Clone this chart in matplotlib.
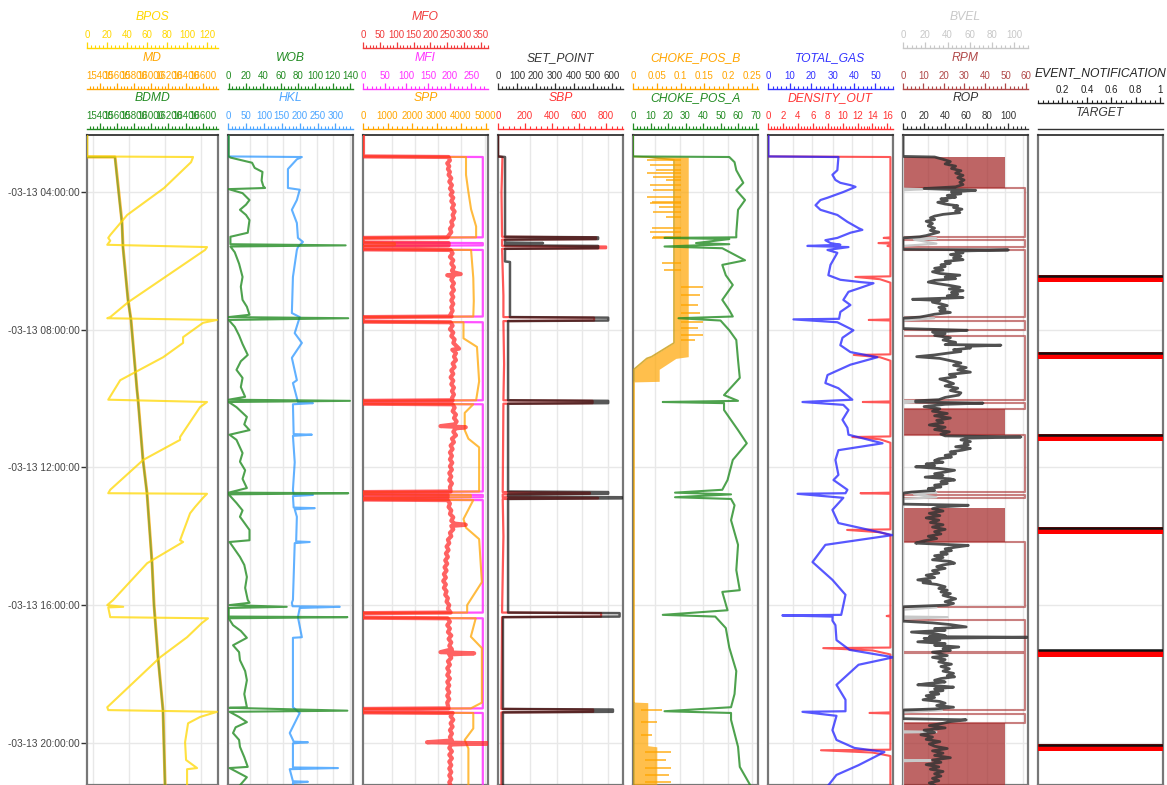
import numpy as np
import matplotlib
matplotlib.use("Agg")
import matplotlib.pyplot as plt
from matplotlib.ticker import MultipleLocator, FuncFormatter

plt.rcParams["font.family"] = ["Liberation Sans", "DejaVu Sans"]

W, H = 1167, 785


def hrs(ts):
    return np.array([int(s[:2]) + int(s[3:]) / 60 for s in ts])


def split(pairs):
    t, v = zip(*pairs)
    return hrs(t), np.array(v, dtype=float)


# ---------------- data (time of day on 03-13, value) ----------------
bpos = [("02:15", 0), ("02:58", 0), ("02:59", 106), ("03:08", 104), ("03:53", 77), ("04:40", 40),
        ("05:15", 23), ("05:20", 21), ("05:25", 23), ("05:32", 20), ("05:36", 120), ("05:41", 118),
        ("07:12", 41), ("07:38", 23), ("07:40", 20), ("07:43", 130), ("07:48", 116), ("08:13", 96),
        ("08:23", 96), ("08:48", 76), ("09:28", 33), ("10:02", 21), ("10:06", 120), ("10:15", 113),
        ("11:07", 93), ("11:12", 93), ("11:47", 56), ("12:39", 23), ("12:45", 21), ("12:46", 120),
        ("12:53", 116), ("13:09", 108), ("13:20", 103), ("14:07", 93), ("14:10", 96), ("14:47", 60),
        ("15:51", 26), ("16:00", 20), ("16:03", 36), ("16:04", 21), ("16:21", 23), ("16:23", 121),
        ("16:31", 115), ("16:56", 100), ("17:31", 73), ("18:58", 20), ("19:03", 21), ("19:06", 130),
        ("19:15", 113), ("19:26", 101), ("19:59", 98), ("20:30", 99), ("20:44", 110), ("20:46", 100),
        ("21:14", 100)]
md = [("02:15", 0), ("02:58", 0), ("02:59", 15576), ("04:54", 15658), ("05:36", 15669),
      ("07:08", 15728), ("07:43", 15763), ("09:45", 15833), ("10:02", 15845), ("11:47", 15903),
      ("12:45", 15950), ("14:47", 16009), ("16:00", 16032), ("17:31", 16079), ("19:03", 16137),
      ("21:14", 16161)]
bdmd = [("02:15", 0), ("02:58", 0), ("02:59", 15574), ("04:54", 15656), ("05:36", 15668),
        ("07:08", 15727), ("07:43", 15762), ("09:45", 15832), ("10:02", 15844), ("11:47", 15902),
        ("12:45", 15949), ("14:47", 16008), ("16:00", 16031), ("17:31", 16078), ("19:03", 16136),
        ("21:14", 16160)]

wob = [("02:15", 0), ("02:58", 0), ("03:00", 2), ("03:09", 27), ("03:18", 30), ("03:25", 39), ("03:40", 38),
       ("03:50", 40), ("03:53", 42), ("03:55", 0), ("04:02", 16), ("04:14", 24), ("04:22", 20), ("04:31", 13),
       ("04:40", 20), ("04:49", 24), ("05:00", 23), ("05:11", 22), ("05:18", 2), ("05:31", 2), ("05:33", 135),
       ("05:35", 2), ("05:45", 7), ("06:05", 12), ("06:28", 16), ("06:45", 14), ("07:08", 16), ("07:20", 21),
       ("07:34", 24), ("07:38", 0), ("07:40", 138), ("07:43", 0), ("07:55", 7), ("08:10", 12), ("08:25", 16),
       ("08:44", 22), ("08:55", 14), ("09:10", 9), ("09:24", 16), ("09:40", 14), ("09:57", 19), ("10:02", 0),
       ("10:04", 140), ("10:06", 0), ("10:15", 9), ("10:32", 21), ("10:45", 18), ("10:55", 24), ("11:03", 1),
       ("11:12", 9), ("11:35", 16), ("11:50", 13), ("12:05", 19), ("12:20", 16), ("12:36", 21), ("12:44", 0),
       ("12:45", 138), ("12:47", 0), ("13:02", 9), ("13:15", 16), ("13:26", 13), ("13:49", 24), ("14:07", 24),
       ("14:10", 1), ("14:36", 13), ("14:50", 18), ("15:11", 21), ("15:30", 19), ("15:51", 22), ("15:56", 24),
       ("16:00", 1), ("16:03", 67), ("16:05", 0), ("16:20", 0), ("16:21", 137), ("16:23", 0), ("16:35", 5),
       ("16:45", 14), ("16:57", 21), ("17:10", 5), ("17:22", 12), ("17:36", 13), ("17:55", 19), ("18:11", 21),
       ("18:35", 18), ("18:58", 21), ("18:59", 1), ("19:04", 137), ("19:06", 1), ("19:15", 12), ("19:24", 21),
       ("19:33", 8), ("19:43", 5), ("19:55", 12), ("20:07", 13), ("20:25", 18), ("20:42", 22), ("20:44", 1),
       ("21:00", 21), ("21:14", 13)]
hkl = [("02:15", 0), ("02:58", 0), ("02:59", 206), ("03:03", 192), ("03:20", 167), ("03:53", 167),
       ("03:56", 200), ("04:14", 192), ("04:31", 178), ("04:54", 192), ("05:20", 195), ("05:27", 209),
       ("05:36", 195), ("05:41", 192), ("06:28", 181), ("07:31", 178), ("07:38", 200), ("08:06", 186),
       ("08:23", 206), ("08:49", 178), ("09:28", 192), ("09:33", 181), ("10:06", 195), ("10:08", 237),
       ("10:10", 181), ("11:02", 183), ("11:03", 234), ("11:05", 181), ("11:51", 186), ("12:39", 181),
       ("12:47", 183), ("12:48", 237), ("12:50", 181), ("13:10", 183), ("13:11", 242), ("13:13", 186),
       ("13:26", 192), ("14:09", 190), ("14:10", 228), ("14:12", 186), ("15:51", 181), ("15:56", 178),
       ("16:02", 180), ("16:03", 312), ("16:05", 200), ("16:21", 195), ("16:56", 206), ("16:57", 181),
       ("17:36", 181), ("18:58", 181), ("19:08", 200), ("19:43", 172), ("19:55", 181), ("19:58", 183),
       ("19:59", 223), ("20:01", 181), ("20:07", 181), ("20:43", 181), ("20:44", 307), ("20:46", 172),
       ("21:07", 181), ("21:08", 223), ("21:10", 181), ("21:14", 181)]

mfo = [("02:15", 0), ("02:58", 0), ("02:59", 254), ("03:05", 258), ("03:10", 250), ("03:15", 256), ("03:20", 252),
       ("03:25", 258), ("03:30", 254), ("03:36", 262), ("03:42", 256), ("03:48", 264), ("03:54", 258),
       ("04:00", 266), ("04:05", 260), ("04:10", 268), ("04:16", 262), ("04:22", 270), ("04:28", 264),
       ("04:34", 272), ("04:40", 266), ("04:46", 270), ("04:52", 262), ("04:58", 266), ("05:04", 258),
       ("05:10", 262), ("05:16", 254), ("05:19", 251), ("05:20", 0), ("05:28", 0), ("05:29", 254), ("05:33", 254),
       ("05:34", 0), ("05:40", 0), ("05:41", 260), ("05:47", 266), ("05:53", 258), ("05:59", 268), ("06:05", 262),
       ("06:11", 270), ("06:17", 264), ("06:20", 270), ("06:23", 290), ("06:25", 250), ("06:27", 268),
       ("06:33", 262), ("06:39", 270), ("06:45", 264), ("06:51", 270), ("06:57", 262), ("07:03", 268),
       ("07:09", 262), ("07:15", 268), ("07:21", 262), ("07:27", 266), ("07:33", 260), ("07:37", 263),
       ("07:38", 0), ("07:46", 0), ("07:47", 260), ("07:53", 266), ("07:59", 258), ("08:05", 268), ("08:11", 262),
       ("08:17", 272), ("08:23", 268), ("08:29", 278), ("08:33", 285), ("08:35", 265), ("08:41", 276),
       ("08:47", 270), ("08:53", 276), ("08:59", 266), ("09:05", 272), ("09:11", 262), ("09:17", 268),
       ("09:23", 260), ("09:29", 268), ("09:35", 262), ("09:41", 270), ("09:47", 264), ("09:53", 270),
       ("09:59", 264), ("10:03", 266), ("10:04", 0), ("10:09", 0), ("10:10", 266), ("10:16", 272), ("10:22", 266),
       ("10:28", 276), ("10:34", 270), ("10:40", 278), ("10:45", 272), ("10:48", 230), ("10:50", 305),
       ("10:52", 275), ("10:58", 268), ("11:04", 276), ("11:10", 264), ("11:16", 270), ("11:22", 260),
       ("11:28", 266), ("11:34", 258), ("11:40", 264), ("11:46", 258), ("11:52", 265), ("11:58", 258),
       ("12:04", 264), ("12:10", 256), ("12:16", 262), ("12:22", 256), ("12:28", 264), ("12:34", 258),
       ("12:42", 260), ("12:43", 0), ("12:47", 0), ("12:48", 251), ("12:52", 251), ("12:53", 0), ("12:56", 0),
       ("12:57", 251), ("13:03", 258), ("13:09", 254), ("13:15", 262), ("13:21", 258), ("13:27", 268),
       ("13:33", 262), ("13:38", 272), ("13:40", 305), ("13:42", 262), ("13:48", 268), ("13:54", 258),
       ("14:00", 262), ("14:06", 252), ("14:12", 256), ("14:18", 248), ("14:24", 254), ("14:30", 246),
       ("14:36", 252), ("14:42", 244), ("14:48", 250), ("14:54", 242), ("15:00", 248), ("15:06", 240),
       ("15:12", 246), ("15:18", 238), ("15:24", 246), ("15:30", 240), ("15:36", 248), ("15:42", 244),
       ("15:48", 252), ("15:54", 248), ("16:00", 256), ("16:06", 252), ("16:13", 260), ("16:14", 0), ("16:22", 0),
       ("16:23", 251), ("16:29", 258), ("16:35", 250), ("16:41", 258), ("16:47", 252), ("16:53", 262),
       ("16:59", 254), ("17:05", 262), ("17:11", 256), ("17:17", 264), ("17:22", 230), ("17:24", 330),
       ("17:26", 256), ("17:32", 262), ("17:38", 252), ("17:44", 258), ("17:50", 250), ("17:56", 256),
       ("18:02", 250), ("18:08", 258), ("18:14", 250), ("18:20", 256), ("18:26", 250), ("18:32", 256),
       ("18:38", 250), ("18:44", 256), ("18:50", 250), ("19:00", 254), ("19:01", 0), ("19:07", 0), ("19:08", 266),
       ("19:14", 260), ("19:20", 268), ("19:26", 260), ("19:32", 266), ("19:38", 258), ("19:44", 264),
       ("19:50", 258), ("19:56", 264), ("19:59", 190), ("20:01", 370), ("20:03", 262), ("20:09", 256),
       ("20:15", 264), ("20:21", 256), ("20:27", 264), ("20:33", 256), ("20:39", 262), ("20:45", 256),
       ("20:51", 262), ("20:57", 256), ("21:03", 262), ("21:09", 256), ("21:14", 260)]
mfi = [("02:15", 0), ("02:58", 0), ("02:59", 277), ("05:19", 277), ("05:20", 0), ("05:28", 0),
       ("05:29", 277), ("05:33", 277), ("05:34", 0), ("05:40", 0), ("05:41", 277), ("07:37", 277),
       ("07:38", 0), ("07:46", 0), ("07:47", 277), ("10:03", 277), ("10:04", 0), ("10:09", 0),
       ("10:10", 277), ("12:42", 277), ("12:43", 0), ("12:47", 0), ("12:48", 277), ("12:52", 277),
       ("12:53", 0), ("12:56", 0), ("12:57", 277), ("16:13", 277), ("16:14", 0), ("16:22", 0),
       ("16:23", 277), ("19:00", 277), ("19:01", 0), ("19:07", 0), ("19:08", 277), ("21:14", 277)]
spp = [("02:15", 0), ("02:58", 0), ("02:59", 4203), ("03:30", 4203), ("04:00", 4300), ("04:30", 4409),
       ("05:00", 4615), ("05:19", 4615), ("05:20", 0), ("05:28", 0), ("05:29", 1300), ("05:33", 1300),
       ("05:34", 0), ("05:40", 0), ("05:41", 4409), ("06:30", 4500), ("07:10", 4520), ("07:37", 4500),
       ("07:38", 0), ("07:46", 0), ("07:47", 4100), ("08:15", 4100), ("08:30", 4650), ("09:30", 4738),
       ("10:03", 4615), ("10:04", 0), ("10:09", 0), ("10:10", 4500), ("10:25", 4150), ("10:55", 4150),
       ("11:10", 4300), ("11:25", 4738), ("12:42", 4738), ("12:43", 0), ("12:47", 0), ("12:48", 4400),
       ("12:52", 4400), ("12:53", 0), ("12:56", 0), ("12:57", 4500), ("13:30", 4100), ("13:45", 4200),
       ("14:05", 4738), ("15:20", 4850), ("16:00", 4250), ("16:13", 4250), ("16:14", 0), ("16:22", 0),
       ("16:23", 4600), ("16:55", 4400), ("17:15", 4850), ("18:50", 4850), ("19:00", 4400), ("19:01", 0),
       ("19:07", 0), ("19:08", 4500), ("19:35", 4500), ("19:55", 4150), ("20:10", 4300), ("20:40", 4300),
       ("21:14", 4300)]

set_point = [("02:15", 0), ("02:58", 0), ("02:59", 37), ("05:18", 37), ("05:19", 527), ("05:22", 527),
             ("05:23", 37), ("05:28", 37), ("05:29", 237), ("05:30", 37), ("05:33", 37), ("05:34", 527),
             ("05:38", 527), ("05:39", 37), ("06:01", 37), ("06:02", 63), ("07:38", 63), ("07:39", 580),
             ("07:44", 580), ("07:45", 53), ("10:03", 53), ("10:04", 580), ("10:08", 580), ("10:09", 53),
             ("12:42", 53), ("12:43", 580), ("12:46", 580), ("12:47", 53), ("12:51", 53), ("12:52", 653),
             ("12:54", 653), ("12:55", 53), ("16:13", 53), ("16:14", 640), ("16:20", 640), ("16:21", 26),
             ("19:01", 26), ("19:02", 605), ("19:06", 605), ("19:07", 26), ("21:14", 26)]
sbp = [("02:15", 0), ("02:58", 0), ("02:59", 33), ("04:00", 26), ("05:18", 30), ("05:19", 726),
       ("05:22", 726), ("05:23", 30), ("05:34", 30), ("05:35", 800), ("05:38", 800), ("05:39", 30),
       ("07:00", 40), ("07:38", 40), ("07:39", 711), ("07:44", 711), ("07:45", 40), ("09:00", 45),
       ("10:03", 40), ("10:04", 700), ("10:08", 700), ("10:09", 40), ("12:43", 35), ("12:44", 680),
       ("12:46", 680), ("12:47", 35), ("12:52", 35), ("12:53", 740), ("12:54", 740), ("12:55", 35),
       ("14:00", 40), ("16:13", 30), ("16:14", 763), ("16:20", 763), ("16:21", 30), ("19:01", 25),
       ("19:02", 704), ("19:06", 704), ("19:07", 25), ("21:14", 25)]

# choke B: min/max envelope of the oscillating signal, plus outlying strokes
choke_b_t = ["02:15", "02:58", "02:59", "03:04", "07:39", "08:23", "08:47", "08:50", "09:09", "09:30",
             "09:31", "18:49", "18:50", "20:05", "20:07", "21:14"]
choke_b_lo = [0, 0, 0.029, 0.086, 0.086, 0.086, 0.039, 0.029, 0.002, 0.002, 0, 0, 0.002, 0.002, 0.002, 0.002]
choke_b_hi = [0, 0, 0.116, 0.116, 0.116, 0.116, 0.116, 0.09, 0.055, 0.055, 0.003, 0.003, 0.031, 0.031, 0.05, 0.05]
choke_b_strokes = [("03:04", 0.029), ("03:13", 0.035), ("03:22", 0.049), ("03:27", 0.029), ("03:34", 0.041),
                   ("03:39", 0.069), ("03:48", 0.035), ("03:57", 0.041), ("04:09", 0.029), ("04:17", 0.039),
                   ("04:19", 0.035), ("04:26", 0.055), ("04:35", 0.041), ("04:44", 0.069), ("05:03", 0.039),
                   ("05:10", 0.035), ("05:18", 0.041), ("05:20", 0.039), ("06:04", 0.06), ("06:16", 0.065),
                   ("06:46", 0.147), ("06:59", 0.14), ("07:17", 0.137), ("07:31", 0.14), ("07:47", 0.147),
                   ("07:57", 0.137), ("08:09", 0.147), ("08:18", 0.13), ("19:03", 0.06), ("19:24", 0.05),
                   ("19:46", 0.04), ("20:16", 0.08), ("20:30", 0.07), ("20:44", 0.08), ("20:56", 0.075),
                   ("21:08", 0.08)]
choke_a = [("02:15", 0), ("02:58", 0), ("02:59", 55), ("03:08", 58), ("03:22", 59), ("03:44", 63),
           ("03:57", 59), ("04:14", 64), ("04:31", 60), ("05:11", 59), ("05:19", 59), ("05:20", 18),
           ("05:22", 55), ("05:29", 36), ("05:31", 55), ("05:35", 18), ("05:38", 51), ("05:59", 64),
           ("06:07", 51), ("06:25", 53), ("06:42", 57), ("07:08", 51), ("07:26", 55), ("07:37", 57),
           ("07:40", 26), ("07:44", 50), ("08:01", 55), ("08:18", 59), ("08:53", 60), ("09:24", 61),
           ("09:54", 52), ("10:04", 60), ("10:06", 17), ("10:08", 52), ("10:20", 52), ("10:55", 60),
           ("11:18", 65), ("11:47", 57), ("12:22", 54), ("12:39", 51), ("12:44", 24), ("12:47", 56),
           ("12:52", 24), ("12:55", 56), ("13:06", 58), ("13:32", 56), ("14:15", 60), ("14:59", 59),
           ("15:34", 61), ("15:37", 51), ("16:09", 54), ("16:17", 17), ("16:20", 47), ("16:40", 53),
           ("17:14", 55), ("17:55", 59), ("18:35", 58), ("18:58", 56), ("19:05", 18), ("19:08", 56),
           ("19:20", 56), ("20:07", 60), ("20:42", 61), ("21:14", 67)]

total_gas = [("02:15", 0), ("02:58", 0), ("02:59", 32.7), ("03:22", 32.2), ("03:30", 29.9), ("03:39", 31.3),
             ("03:44", 33.6), ("03:48", 38.3), ("03:51", 40.7), ("04:00", 35), ("04:10", 27.6), ("04:14", 24.3),
             ("04:23", 22), ("04:31", 24.3), ("04:40", 32.2), ("04:52", 36.9), ("05:03", 42.1), ("05:06", 43.9),
             ("05:11", 38.3), ("05:20", 32.2), ("05:24", 26.6), ("05:29", 29), ("05:32", 33.6), ("05:34", 18.2),
             ("05:36", 37.4), ("05:41", 27.6), ("05:46", 32.2), ("06:07", 29), ("06:25", 28), ("06:33", 33.6),
             ("06:37", 43), ("06:39", 49.1), ("06:47", 43), ("06:54", 37.4), ("07:08", 35), ("07:17", 38.3),
             ("07:29", 33.6), ("07:41", 33), ("07:42", 11.7), ("07:47", 32.2), ("08:01", 39.7), ("08:14", 34.6),
             ("08:27", 33.6), ("08:39", 38.3), ("08:48", 50.9), ("09:01", 38.3), ("09:19", 27.6), ("09:33", 26.6),
             ("09:42", 32.7), ("10:02", 39.2), ("10:06", 15.9), ("10:11", 35), ("10:20", 37.4), ("10:37", 34.6),
             ("10:51", 36.9), ("11:03", 37.4), ("11:18", 53.3), ("11:30", 32.7), ("11:47", 31.3), ("12:13", 32.7),
             ("12:22", 30.4), ("12:39", 36.9), ("12:45", 36), ("12:46", 13.6), ("12:53", 35), ("13:14", 29.9),
             ("13:37", 32.7), ("13:58", 57.9), ("14:15", 26.6), ("14:45", 20.6), ("15:16", 29.9), ("15:42", 36),
             ("16:00", 35), ("16:17", 34), ("16:18", 6.5), ("16:20", 30), ("16:27", 29.9), ("16:35", 31.3),
             ("17:01", 31.8), ("17:18", 37.9), ("17:31", 58.4), ("17:44", 42.1), ("18:19", 31.8), ("18:45", 36),
             ("19:05", 36), ("19:06", 15.9), ("19:13", 31.8), ("19:38", 29.9), ("19:55", 31.8), ("20:09", 40.2),
             ("20:16", 54.2), ("20:39", 42.1), ("20:56", 31.8), ("21:14", 28)]
density_out = [("02:15", 0), ("02:58", 0), ("02:59", 16.4), ("05:19", 16.4), ("05:20", 15.5), ("05:21", 16.4),
               ("05:28", 16.4), ("05:29", 14.8), ("05:30", 16.4), ("05:33", 16.4), ("05:34", 16.0),
               ("05:35", 16.4), ("06:27", 16.4), ("06:28", 11.7), ("06:32", 15.0), ("06:38", 16.4),
               ("07:42", 16.4), ("07:43", 13.5), ("07:44", 16.4), ("08:43", 16.4), ("08:44", 11.5),
               ("08:48", 15.0), ("08:54", 16.4), ("10:05", 16.4), ("10:06", 12.7), ("10:07", 16.4),
               ("11:06", 16.4), ("11:07", 11.3), ("11:11", 15.0), ("11:17", 16.4), ("12:44", 16.4),
               ("12:45", 12.4), ("12:46", 16.4), ("13:48", 16.4), ("13:49", 10.6), ("13:53", 15.0),
               ("13:58", 16.4), ("16:18", 16.4), ("16:19", 15.9), ("16:20", 16.4), ("17:14", 16.4),
               ("17:15", 7.4), ("17:19", 14.0), ("17:26", 16.4), ("19:07", 16.4), ("19:08", 13.6),
               ("19:09", 16.4), ("20:12", 16.4), ("20:13", 7.1), ("20:17", 14.0), ("20:23", 16.4),
               ("21:14", 16.4)]

bvel = [("02:15", 0), ("03:54", 0), ("03:55", 18), ("03:57", 0), ("05:20", 0), ("05:21", 30), ("05:23", 10),
        ("05:30", 30), ("05:34", 0), ("07:39", 0), ("07:40", 28), ("07:44", 0), ("10:04", 0), ("10:05", 20),
        ("10:08", 0), ("12:43", 0), ("12:44", 30), ("12:47", 10), ("12:52", 30), ("12:55", 0), ("16:02", 0),
        ("16:04", 30), ("16:08", 0), ("16:20", 0), ("16:21", 40), ("16:24", 0), ("19:02", 0), ("19:03", 35),
        ("19:07", 0), ("19:40", 0), ("19:41", 30), ("19:42", 0), ("20:30", 0), ("20:31", 25), ("20:32", 0),
        ("21:14", 0)]
rpm_rotating = [("03:53", "05:18"), ("05:24", "05:36"), ("05:41", "07:38"), ("07:45", "08:01"),
                ("08:11", "10:03"), ("10:08", "10:18"), ("11:03", "12:43"), ("12:48", "12:53"),
                ("14:10", "16:03"), ("16:26", "17:22"), ("17:24", "19:03"), ("19:10", "19:25")]
rpm_rotating_level = 59.5
rpm_rocking = [("02:59", "03:53"), ("10:18", "11:03"), ("13:11", "14:10"), ("19:25", "21:30")]
rpm_rocking_level = 50
rop = [("02:15", 0), ("02:58", 0), ("02:59", 30), ("03:03", 38), ("03:07", 45), ("03:11", 40), ("03:15", 50),
       ("03:19", 46), ("03:23", 55), ("03:27", 50), ("03:31", 57), ("03:35", 52), ("03:39", 58), ("03:43", 54),
       ("03:47", 57), ("03:51", 50), ("03:54", 20), ("03:57", 69), ("04:00", 46), ("04:03", 55), ("04:06", 42),
       ("04:09", 50), ("04:12", 36), ("04:15", 42), ("04:18", 33), ("04:21", 40), ("04:24", 52), ("04:27", 48),
       ("04:30", 56), ("04:33", 50), ("04:36", 54), ("04:39", 38), ("04:42", 30), ("04:45", 26), ("04:48", 30),
       ("04:51", 22), ("04:55", 28), ("04:59", 24), ("05:03", 30), ("05:07", 26), ("05:10", 34), ("05:13", 28),
       ("05:16", 22), ("05:18", 16), ("05:20", 0), ("05:40", 0), ("05:41", 100), ("05:43", 50), ("05:46", 57),
       ("05:49", 45), ("05:52", 55), ("05:55", 48), ("05:58", 57), ("06:01", 40), ("06:04", 45), ("06:07", 36),
       ("06:10", 40), ("06:13", 30), ("06:16", 38), ("06:19", 28), ("06:22", 35), ("06:25", 54), ("06:28", 40),
       ("06:31", 50), ("06:34", 30), ("06:37", 24), ("06:40", 34), ("06:43", 45), ("06:46", 54), ("06:49", 44),
       ("06:52", 57), ("06:55", 46), ("06:58", 52), ("07:01", 42), ("07:04", 57), ("07:07", 9), ("07:09", 35),
       ("07:12", 28), ("07:15", 36), ("07:18", 42), ("07:21", 34), ("07:24", 40), ("07:27", 35), ("07:30", 45),
       ("07:33", 30), ("07:36", 22), ("07:38", 16), ("07:40", 0), ("07:58", 0), ("08:01", 61), ("08:04", 28),
       ("08:07", 40), ("08:10", 30), ("08:14", 45), ("08:18", 38), ("08:22", 50), ("08:26", 40), ("08:27", 93),
       ("08:29", 60), ("08:32", 64), ("08:35", 48), ("08:38", 55), ("08:41", 42), ("08:44", 30), ("08:47", 13),
       ("08:50", 35), ("08:54", 45), ("08:58", 55), ("09:02", 48), ("09:06", 60), ("09:10", 52), ("09:14", 64),
       ("09:18", 44), ("09:22", 50), ("09:26", 35), ("09:30", 42), ("09:34", 48), ("09:38", 40), ("09:42", 52),
       ("09:46", 45), ("09:50", 55), ("09:54", 53), ("09:58", 40), ("10:02", 34), ("10:04", 12), ("10:06", 12),
       ("10:08", 76), ("10:10", 40), ("10:14", 20), ("10:18", 35), ("10:22", 28), ("10:26", 42), ("10:30", 30),
       ("10:34", 45), ("10:38", 32), ("10:42", 38), ("10:46", 25), ("10:50", 40), ("10:54", 30), ("10:58", 44),
       ("11:02", 36), ("11:05", 40), ("11:07", 112), ("11:09", 62), ("11:12", 55), ("11:15", 64), ("11:18", 58),
       ("11:21", 62), ("11:24", 50), ("11:27", 64), ("11:30", 56), ("11:33", 45), ("11:36", 50), ("11:39", 40),
       ("11:42", 46), ("11:45", 34), ("11:48", 30), ("11:51", 38), ("11:54", 22), ("11:57", 30), ("11:59", 12),
       ("12:02", 35), ("12:05", 49), ("12:08", 40), ("12:11", 30), ("12:14", 38), ("12:17", 21), ("12:20", 45),
       ("12:22", 49), ("12:25", 36), ("12:28", 42), ("12:31", 30), ("12:34", 36), ("12:37", 24), ("12:40", 30),
       ("12:43", 8), ("12:45", 0), ("13:04", 0), ("13:06", 62), ("13:09", 34), ("13:12", 28), ("13:16", 38),
       ("13:20", 25), ("13:24", 35), ("13:28", 22), ("13:32", 34), ("13:36", 26), ("13:40", 38), ("13:44", 28),
       ("13:48", 40), ("13:52", 30), ("13:56", 36), ("14:00", 24), ("14:04", 32), ("14:08", 20), ("14:12", 12),
       ("14:16", 62), ("14:19", 50), ("14:22", 40), ("14:25", 46), ("14:28", 36), ("14:31", 42), ("14:34", 30),
       ("14:37", 38), ("14:41", 28), ("14:44", 45), ("14:47", 49), ("14:50", 38), ("14:53", 32), ("14:56", 40),
       ("15:00", 28), ("15:04", 34), ("15:08", 22), ("15:12", 30), ("15:16", 14), ("15:19", 26), ("15:21", 19),
       ("15:24", 32), ("15:28", 40), ("15:31", 34), ("15:34", 42), ("15:37", 36), ("15:40", 45), ("15:43", 38),
       ("15:46", 44), ("15:49", 50), ("15:51", 46), ("15:54", 40), ("15:57", 48), ("16:00", 42), ("16:03", 0),
       ("16:28", 0), ("16:31", 28), ("16:34", 45), ("16:38", 60), ("16:41", 30), ("16:44", 40), ("16:47", 8),
       ("16:50", 30), ("16:53", 40), ("16:55", 25), ("16:56", 118), ("16:58", 20), ("17:01", 35), ("17:04", 14),
       ("17:07", 40), ("17:10", 30), ("17:13", 53), ("17:16", 38), ("17:19", 45), ("17:22", 28), ("17:25", 35),
       ("17:28", 42), ("17:31", 28), ("17:35", 40), ("17:39", 34), ("17:43", 46), ("17:47", 36), ("17:51", 44),
       ("17:55", 38), ("17:59", 48), ("18:03", 42), ("18:05", 49), ("18:08", 36), ("18:11", 30), ("18:14", 40),
       ("18:17", 22), ("18:19", 14), ("18:21", 35), ("18:23", 48), ("18:26", 30), ("18:29", 38), ("18:32", 26),
       ("18:35", 34), ("18:38", 22), ("18:41", 30), ("18:45", 19), ("18:48", 35), ("18:51", 40), ("18:55", 32),
       ("18:58", 48), ("19:01", 30), ("19:03", 0), ("19:18", 0), ("19:20", 60), ("19:23", 45), ("19:26", 38),
       ("19:30", 25), ("19:34", 40), ("19:38", 20), ("19:42", 30), ("19:46", 17), ("19:50", 28), ("19:54", 22),
       ("19:58", 35), ("20:02", 25), ("20:06", 30), ("20:10", 42), ("20:14", 28), ("20:18", 38), ("20:22", 30),
       ("20:26", 45), ("20:30", 28), ("20:34", 36), ("20:38", 22), ("20:42", 34), ("20:46", 26), ("20:50", 38),
       ("20:54", 30), ("20:58", 36), ("21:02", 28), ("21:06", 34), ("21:10", 25), ("21:14", 30)]

event_notification = [("06:25", "06:37"), ("08:39", "08:51"), ("11:02", "11:14"), ("13:44", "13:56"),
                      ("17:18", "17:31"), ("20:02", "20:15")]
target = ["06:26", "08:40", "11:03", "13:45", "17:19", "20:03"]

# ---------------- layout ----------------
TRACKS = [(87, 131), (228, 125), (363, 125), (498, 125), (633, 125), (768, 125), (903, 125), (1038, 125)]
GRID_PX = [[6, 42, 78, 114], [22, 39, 55, 72, 89, 105, 122], [29, 52, 75, 98, 122], [32, 59, 84, 110],
           [22, 47, 70, 95, 119], [25, 44, 65, 84, 104, 124], [25, 45, 64, 84, 102, 120], []]
ROW_BASE = [48, 89, 129]
ROW_TITLE = [17, 58, 98]
T_TOP, T_BOT = 2.344, 21.226
HOURS = [4, 8, 12, 16, 20]

fig = plt.figure(figsize=(W / 100, H / 100), dpi=100)
fmt = FuncFormatter(lambda v, p: f"{v:g}")


def header(ti, base_px, title_px, name, color, lo, hi, majors, minor):
    l, w = TRACKS[ti]
    hx = fig.add_axes([l / W, 1 - base_px / H, w / W, 1e-4])
    hx.set_xlim(lo, hi)
    hx.patch.set_visible(False)
    for s in ("left", "right", "bottom"):
        hx.spines[s].set_visible(False)
    hx.spines["top"].set_color(color)
    hx.spines["top"].set_linewidth(1.0)
    hx.set_yticks([])
    hx.xaxis.tick_top()
    hx.set_xticks(majors)
    if minor:
        hx.xaxis.set_minor_locator(MultipleLocator(minor))
    hx.xaxis.set_major_formatter(fmt)
    hx.tick_params(axis="x", which="major", length=4.3, width=0.9, color=color,
                   labelcolor=color, labelsize=7, pad=1.1)
    hx.tick_params(axis="x", which="minor", length=2.2, width=0.8, color=color)
    fig.text((l + w / 2) / W, 1 - title_px / H, name, color=color, fontsize=8.7,
             style="italic", ha="center", va="center")


def scale(ti, row, name, color, lo, hi, step, last):
    header(ti, ROW_BASE[row], ROW_TITLE[row], name, color, lo, hi,
           np.arange(0, last + step / 2, step) if lo < step else np.arange(lo - lo % step + step, last + step / 2, step),
           step / 5)


tracks = []
for i, (l, w) in enumerate(TRACKS):
    ax = fig.add_axes([l / W, 0, w / W, 650 / H])
    ax.set_xlim(0, w)
    ax.set_ylim(T_BOT, T_TOP)
    ax.set_xticks(GRID_PX[i])
    ax.set_yticks(HOURS)
    ax.grid(i < 7, color="#e8e8e8", lw=1)
    ax.set_axisbelow(True)
    ax.tick_params(axis="x", length=0, labelbottom=False)
    if i == 0:
        ax.set_yticklabels([f"-03-13 {h:02d}:00:00" for h in HOURS])
        ax.tick_params(axis="y", length=4, width=1, color="#333", labelsize=7.3,
                       labelcolor="#444", pad=1.5)
    else:
        ax.tick_params(axis="y", length=0, labelleft=False)
    for s in ("left", "right", "bottom"):
        ax.spines[s].set_color("#777")
        ax.spines[s].set_linewidth(1.6)
    ax.spines["top"].set_color("#333")
    ax.spines["top"].set_linewidth(1.3)
    tracks.append(ax)


def layer(ti, lo, hi):
    a = tracks[ti].twiny()
    a.set_xlim(lo, hi)
    a.set_ylim(T_BOT, T_TOP)
    a.set_axis_off()
    return a


# track 1
a = layer(0, 15248, 16780)
t, v = split(md)
a.plot(v, t, color="#FFA500", lw=2.2, alpha=0.75)
t, v = split(bdmd)
a.plot(v, t, color="#228B22", lw=1.4, alpha=0.45)
a = layer(0, -0.3, 131)
t, v = split(bpos)
a.plot(v, t, color="#FFD700", lw=1.5, alpha=0.75)
scale(0, 0, "BPOS", "#FFD700", -0.3, 131, 20, 120)
scale(0, 1, "MD", "#FFA500", 15248, 16780, 200, 16600)
scale(0, 2, "BDMD", "#228B22", 15248, 16780, 200, 16600)

# track 2
a = layer(1, -0.6, 349)
t, v = split(hkl)
a.plot(v, t, color="#1E90FF", lw=1.5, alpha=0.7)
a = layer(1, -0.8, 143.5)
t, v = split(wob)
a.plot(v, t, color="#228B22", lw=1.5, alpha=0.8)
scale(1, 1, "WOB", "#228B22", -0.8, 143.5, 20, 140)
scale(1, 2, "HKL", "#4DA6FF", -0.6, 349, 50, 300)

# track 3
a = layer(2, 0, 289)
t, v = split(mfi)
a.plot(v, t, color="#FF33FF", lw=1.6, alpha=0.85)
a = layer(2, 0, 5100)
t, v = split(spp)
a.plot(v, t, color="#FFA500", lw=1.5, alpha=0.75)
a = layer(2, 0, 371)
t, v = split(mfo)
a.plot(v, t, color="#FF2020", lw=3.0, alpha=0.7)
scale(2, 0, "MFO", "#F03C3C", 0, 371, 50, 350)
scale(2, 1, "MFI", "#FF33FF", 0, 289, 50, 250)
scale(2, 2, "SPP", "#FFA500", 0, 5100, 1000, 5000)

# track 4
a = layer(3, 0, 925)
t, v = split(sbp)
a.plot(v, t, color="#FF2020", lw=1.6, alpha=0.75)
a = layer(3, 0, 658)
t, v = split(set_point)
a.plot(v, t, color="#111", lw=1.8, alpha=0.7)
scale(3, 1, "SET_POINT", "#333333", 0, 658, 100, 600)
scale(3, 2, "SBP", "#FF3333", 0, 925, 200, 800)

# track 5
a = layer(4, 0, 0.2625)
tb = hrs(choke_b_t)
lo_b, hi_b = np.array(choke_b_lo), np.array(choke_b_hi)
a.fill_betweenx(tb, lo_b, hi_b, color="#FFA500", alpha=0.7, lw=0)
a.plot(lo_b, tb, color="#C89B10", lw=1.2, alpha=0.8)
st, sv = split(choke_b_strokes)
mid = np.interp(st, tb, (lo_b + hi_b) / 2)
a.hlines(st, np.minimum(sv, mid), np.maximum(sv, mid), color="#FFA500", lw=1.4, alpha=0.7)
a = layer(4, 0, 71.4)
t, v = split(choke_a)
a.plot(v, t, color="#228B22", lw=1.5, alpha=0.8)
scale(4, 1, "CHOKE_POS_B", "#FFA500", 0, 0.2625, 0.05, 0.25)
scale(4, 2, "CHOKE_POS_A", "#228B22", 0, 71.4, 10, 70)

# track 6
a = layer(5, 0, 16.75)
t, v = split(density_out)
a.plot(v, t, color="#FF2020", lw=1.5, alpha=0.75)
a = layer(5, -0.2, 58.2)
t, v = split(total_gas)
a.plot(v, t, color="#2020FF", lw=1.6, alpha=0.75)
scale(5, 1, "TOTAL_GAS", "#3333FF", -0.2, 58.2, 10, 50)
scale(5, 2, "DENSITY_OUT", "#FF3333", 0, 16.75, 2, 16)

# track 7
a = layer(6, 0, 61)
for s, e in rpm_rocking:
    a.fill_betweenx(hrs([s, e]), 0, rpm_rocking_level, color="#A52A2A", alpha=0.72, lw=0)
rt, rv = [], []
for s, e in rpm_rotating:
    ts, te = hrs([s, e])
    rt += [ts, ts, te, te]
    rv += [0, rpm_rotating_level, rpm_rotating_level, 0]
a.plot(rv, rt, color="#A52A2A", lw=1.5, alpha=0.6)
a = layer(6, 0, 112.3)
t, v = split(bvel)
a.plot(v, t, color="#C8C8C8", lw=1.6)
a = layer(6, 0, 118.7)
t, v = split(rop)
a.plot(v, t, color="#333333", lw=2.0, alpha=0.85)
scale(6, 0, "BVEL", "#C8C8C8", 0, 112.3, 20, 100)
scale(6, 1, "RPM", "#B04848", 0, 61, 10, 60)
scale(6, 2, "ROP", "#333333", 0, 118.7, 20, 100)

# track 8
a = layer(7, 0, 1.024)
for s, e in event_notification:
    a.fill_betweenx(hrs([s, e]), 0, 1.024, color="#FF0000", lw=0)
a.hlines(hrs(target), 0, 1.024, color="#111", lw=1.8)
header(7, 103, 73, "EVENT_NOTIFICATION", "#222222", 0, 1.024, [0.2, 0.4, 0.6, 0.8, 1.0], 0.04)
header(7, 129, 113, "TARGET", "#333333", 0, 1.024, [], None)

fig.savefig("out.png", dpi=100)
